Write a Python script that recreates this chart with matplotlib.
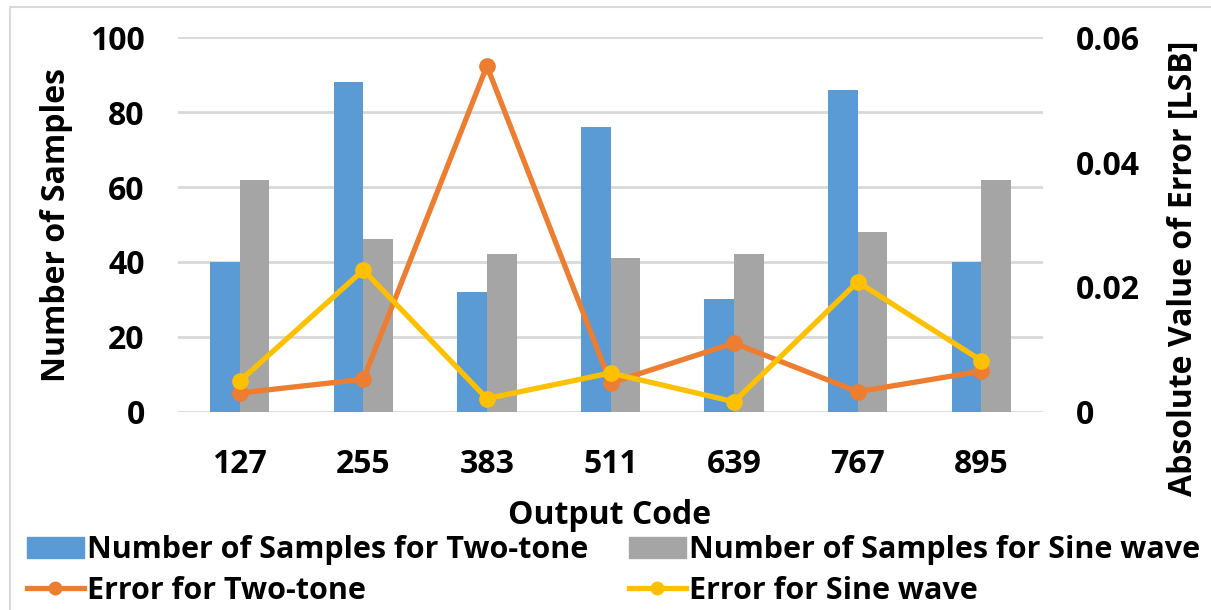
import matplotlib
matplotlib.use("Agg")
import matplotlib.pyplot as plt
import numpy as np
from matplotlib.patches import Rectangle
from matplotlib.lines import Line2D
from matplotlib.ticker import FuncFormatter

# Data
codes = ["127", "255", "383", "511", "639", "767", "895"]
samples_two_tone = [40, 88, 32, 76, 30, 86, 40]
samples_sine = [62, 46, 42, 41, 42, 48, 62]
error_two_tone = [0.0030, 0.0052, 0.0554, 0.0046, 0.0110, 0.0032, 0.0065]
error_sine = [0.0049, 0.0227, 0.0021, 0.0062, 0.0016, 0.0208, 0.0082]

BLUE = "#5B9BD5"
GRAY = "#A5A5A5"
ORANGE = "#ED7D31"
YELLOW = "#FFC000"
GRID = "#D9D9D9"

plt.rcParams["font.family"] = ["Open Sans", "DejaVu Sans"]
plt.rcParams["font.weight"] = "bold"
FS = 23
LEG_FS = 22

fig = plt.figure(figsize=(12.11, 6.10), dpi=100)
W, H = 1211, 610
ax = fig.add_axes([178 / W, 1 - 411.7 / H, (1043 - 178) / W, (411.7 - 37.3) / H])

# outer chart border
fig.patches.append(Rectangle((10 / W, -0.1), 1.2, 1 - 7 / H + 0.1, transform=fig.transFigure,
                             fill=False, edgecolor=GRID, linewidth=1.5))

x = np.arange(len(codes))
bw = 0.24
ax.bar(x - bw / 2, samples_two_tone, width=bw, color=BLUE, zorder=2)
ax.bar(x + bw / 2, samples_sine, width=bw, color=GRAY, zorder=2)

ax.set_xlim(-0.5, len(codes) - 0.5)
ax.set_ylim(0, 100)
ax.set_yticks(range(0, 101, 20))
ax.yaxis.grid(True, color=GRID, linewidth=2, zorder=0)
ax.set_axisbelow(True)
for s in ax.spines.values():
    s.set_visible(False)
ax.tick_params(axis="both", length=0, labelsize=FS)
ax.tick_params(axis="y", pad=24)
ax.tick_params(axis="x", pad=26)
ax.set_xticks(x)
ax.set_xticklabels(codes, fontweight="bold")
for t in ax.get_yticklabels():
    t.set_fontweight("bold")

ax2 = ax.twinx()
ax2.plot(x, error_two_tone, color=ORANGE, linewidth=3.8, marker="o", markersize=11, zorder=3)
ax2.plot(x, error_sine, color=YELLOW, linewidth=3.8, marker="o", markersize=11, zorder=4)
ax2.set_ylim(0, 0.06)
ax2.set_yticks([0, 0.02, 0.04, 0.06])
ax2.yaxis.set_major_formatter(FuncFormatter(lambda v, p: "0" if v == 0 else f"{v:.2f}"))
for s in ax2.spines.values():
    s.set_visible(False)
ax2.tick_params(axis="y", length=0, labelsize=FS, pad=24)
for t in ax2.get_yticklabels():
    t.set_fontweight("bold")

fig.text(57 / W, 1 - 225 / H, "Number of Samples", rotation=90, ha="center", va="center",
         fontsize=FS, fontweight="bold")
fig.text(1183 / W, 1 - 268 / H, "Absolute Value of Error [LSB]", rotation=90, ha="center",
         va="center", fontsize=FS, fontweight="bold")
fig.text(610 / W, 1 - 515 / H, "Output Code", ha="center", va="center",
         fontsize=FS, fontweight="bold")

handles = [
    Rectangle((0, 0), 1, 1, color=BLUE),
    Line2D([], [], color=ORANGE, linewidth=3.8, marker="o", markersize=9),
    Rectangle((0, 0), 1, 1, color=GRAY),
    Line2D([], [], color=YELLOW, linewidth=3.8, marker="o", markersize=9),
]
labels = ["Number of Samples for Two-tone", "Error for Two-tone",
          "Number of Samples for Sine wave", "Error for Sine wave"]
fig.legend(handles, labels, ncol=2, loc="upper left", bbox_to_anchor=(27 / W, 1 - 535 / H),
           frameon=False, prop={"weight": "bold", "size": LEG_FS},
           handlelength=1.85, handletextpad=0.1, columnspacing=1.35, labelspacing=0.35,
           borderaxespad=0, borderpad=0)

fig.savefig("out.png", dpi=100)
